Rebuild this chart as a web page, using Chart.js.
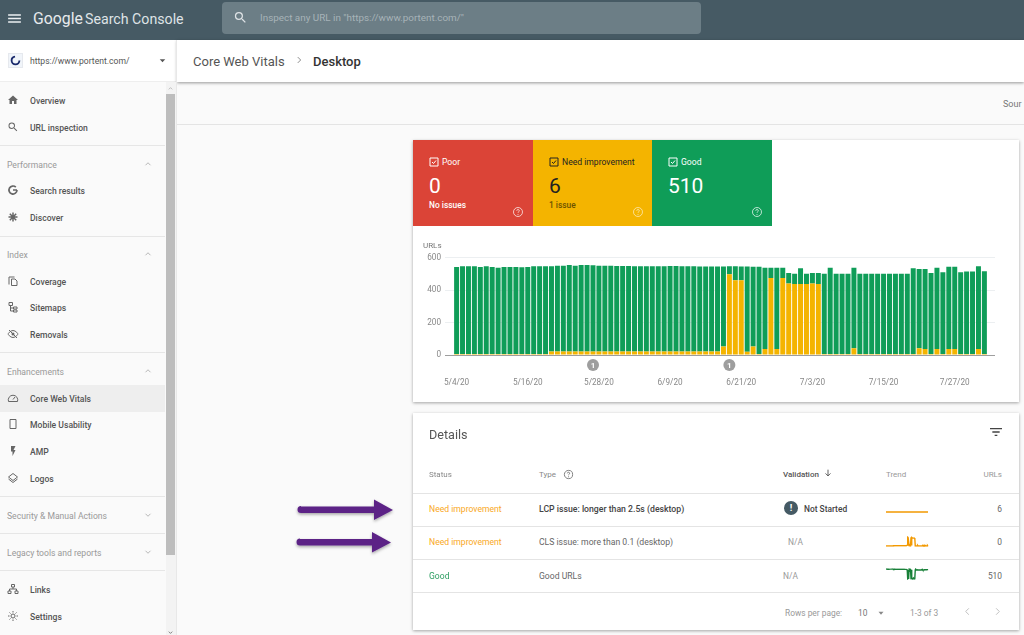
<!DOCTYPE html>
<html>
<head>
<meta charset="utf-8">
<title>Core Web Vitals</title>
<script src="https://cdn.jsdelivr.net/npm/chart.js@4"></script>
<style>
html, body { margin: 0; padding: 0; width: 1024px; height: 635px; overflow: hidden; background: #fafafa; font-family: Roboto, sans-serif; }
.box { position: absolute; }
.t { position: absolute; transform: translateY(-50%); white-space: nowrap; line-height: 1; }
.r { transform: translate(-100%, -50%); }
.card { background: #fff; box-shadow: 0 1px 3px rgba(0,0,0,.35); }
svg { position: absolute; }
canvas { position: absolute; }
</style>
</head>
<body>
<div id="page"></div>
<canvas id="barChart" width="606" height="165" style="left:413px;top:235px;width:606px;height:165px;z-index:5"></canvas>
<canvas id="trend1" width="44" height="14" style="left:885px;top:505px;width:44px;height:14px;z-index:5"></canvas>
<canvas id="trend2" width="44" height="11" style="left:885px;top:536px;width:44px;height:11px;z-index:5"></canvas>
<canvas id="trend3" width="44" height="12" style="left:885px;top:568px;width:44px;height:12px;z-index:5"></canvas>
<script>
// chart values (one entry per day, 5/4/20 to 8/1/20)
const needImprovement = [
    6,6,6,6,6,6,6,6,6,6,6,6,6,6,6,6,
    22,22,22,22,22,22,22,22,22,22,22,22,22,22,22,22,22,22,22,22,22,22,22,22,22,22,22,22,22,
    53,497,460,460,20,53,6,37,475,37,475,440,438,438,438,440,438,
    6,6,6,6,6,41,6,6,6,6,6,6,6,6,6,6,41,37,6,37,6,37,37,6,6,6,37,6
];
const good = [
    536,540,540,540,536,540,536,532,536,536,536,534,536,540,540,540,
    524,528,528,533,528,533,533,531,528,528,528,527,527,527,525,525,525,525,525,525,527,527,525,525,525,523,523,523,523,
    492,50,87,85,525,490,537,501,63,501,63,65,62,96,62,65,67,
    494,532,494,494,494,497,494,494,494,494,494,494,494,494,494,528,489,493,499,501,504,506,506,504,508,508,510,510
];
const lcpTrend = [6,6,6,6,6,6,6,6,6,6,6,6,6,6,6,6,6,6,6,6];
const tickIndex = [0, 12, 24, 36, 48, 60, 72, 84];
const tickLabels = ["5/4/20", "5/16/20", "5/28/20", "6/9/20", "6/21/20", "7/3/20", "7/15/20", "7/27/20"];
const yTicks = [0, 200, 400, 600];
const markerIndex = [23, 46];

const GREEN = "#0f9d58", AMBER = "#f4b400", RED = "#db4437";

const page = document.getElementById("page");
function box(x, y, w, h, css) {
    const d = document.createElement("div");
    d.className = "box";
    d.style.cssText = `left:${x}px;top:${y}px;width:${w}px;height:${h}px;${css || ""}`;
    page.appendChild(d);
    return d;
}
function text(x, y, str, size, color, weight, right) {
    const d = document.createElement("div");
    d.className = right ? "t r" : "t";
    d.textContent = str;
    d.style.cssText = `left:${x}px;top:${y + 0.7}px;font-size:${size}px;color:${color};font-weight:${weight || 400};z-index:6`;
    page.appendChild(d);
}
function icon(x, y, size, inner, color) {
    const s = size / 2;
    page.insertAdjacentHTML("beforeend",
        `<svg viewBox="0 0 24 24" width="${size}" height="${size}" style="left:${x - s}px;top:${y - s}px;z-index:6;color:${color}" fill="currentColor" stroke="none">${inner}</svg>`);
}
const line = d => `<path d="${d}" fill="none" stroke="currentColor" stroke-width="2"/>`;
const ICONS = {
    menu: '<path d="M3 18h18v-2H3v2zm0-5h18v-2H3v2zm0-7v2h18V6H3z"/>',
    search: '<path d="M15.5 14h-.79l-.28-.27A6.47 6.47 0 0 0 16 9.5 6.5 6.5 0 1 0 9.5 16c1.61 0 3.09-.59 4.23-1.57l.27.28v.79l5 4.99L20.49 19l-4.99-5zm-6 0C7 14 5 12 5 9.5S7 5 9.5 5 14 7 14 9.5 12 14 9.5 14z"/>',
    home: '<path d="M10 20v-6h4v6h5v-8h3L12 3 2 12h3v8z"/>',
    discover: line("M12 3v18M3 12h18M5.6 5.6l12.8 12.8M18.4 5.6L5.6 18.4").replace('stroke-width="2"', 'stroke-width="3"'),
    google: line("M20 12h-8M20 12a8 8 0 1 1-2.4-5.7").replace('stroke-width="2"', 'stroke-width="3.4"'),
    coverage: line("M4 19V4h11M9 8h7l4 4v9H9z"),
    sitemap: line("M4 3h7v6H4zM13 12h7v4h-7zM13 18h7v4h-7zM7 9v11h6M7 14h6"),
    removals: line("M2 12s4-7 10-7 10 7 10 7-4 7-10 7-10-7-10-7zM4 4l16 16") + '<circle cx="12" cy="12" r="3"/>',
    gauge: line("M3 19a9.5 9.5 0 1 1 18 0zM12 15l4-5"),
    phone: line("M6 3h12v18H6z"),
    bolt: '<path d="M8 2v11h3v9l6-12h-4l4-8z"/>',
    logos: line("M12 3l9 7-9 7-9-7zM3 14l9 7 9-7"),
    links: line("M9 3h6v5H9zM2 16h6v5H2zM16 16h6v5h-6zM12 8v4M5 16v-4h14v4"),
    gear: line("M12 8a4 4 0 1 0 0 8 4 4 0 0 0 0-8zM12 2v3M12 19v3M2 12h3M19 12h3M5 5l2 2M17 17l2 2M5 19l2-2M17 7l2-2"),
    up: line("M6 15l6-6 6 6"),
    down: line("M6 9l6 6 6-6"),
    caret: '<path d="M6 9h12l-6 7z"/>',
    check: line("M4 4h16v16H4zM8 12l3 3 5-6"),
    help: line("M12 3a9 9 0 1 0 0 18 9 9 0 0 0 0-18zM9.5 9.5a2.5 2.5 0 1 1 3.5 2.3c-.7.4-1 .9-1 1.7") + '<circle cx="12" cy="17" r="1.2"/>',
    filter: '<path d="M3 6h18v2H3zM6.5 11h11v2h-11zM10 16h4v2h-4z"/>',
    arrowDown: line("M12 4v15M6 13l6 6 6-6"),
    left: line("M15 5l-7 7 7 7"),
    right: line("M9 5l7 7-7 7")
};

// top bar
box(0, 0, 1024, 40, "background:#465a64");
icon(14, 18, 17, ICONS.menu, "#eceff1");
text(33, 18, "Google", 15.8, "#e8eaed");
text(85, 18, "Search Console", 14.2, "#dfe3e6");
box(222, 2, 479, 32, "background:#6c7e86;border-radius:4px");
icon(240, 17, 15, ICONS.search, "#dfe3e6");
text(260, 17.5, 'Inspect any URL in "https://www.portent.com/"', 9.9, "#a7b3b8");

// header strip
box(0, 40, 176, 42, "background:#fff;border-bottom:1px solid #eee;box-sizing:border-box");
box(177, 40, 847, 42, "background:#fff;box-shadow:0 1px 3px rgba(0,0,0,.4)");
box(176, 40, 1, 595, "background:#e8e8e8");
box(8, 53, 15, 15, "background:#f1f5fa;border:1px solid #e6e9ee;box-sizing:border-box");
page.insertAdjacentHTML("beforeend", '<svg viewBox="0 0 24 24" width="11" height="11" style="left:10px;top:55px;z-index:6"><circle cx="12" cy="12" r="8.5" fill="none" stroke="#1a2a6c" stroke-width="4" stroke-dasharray="38 15"/></svg>');
text(30, 60, "https://www.portent.com/", 8.6, "#555");
icon(162, 60, 11, ICONS.caret, "#555");
text(193, 60, "Core Web Vitals", 13, "#555");
icon(299, 60, 10, line("M9 5l7 7-7 7"), "#777");
text(313, 60, "Desktop", 13, "#333", 500);
box(177, 124, 847, 1, "background:#e4e4e4");
text(1003, 103, "Sour", 9, "#777");

// sidebar
const navItems = [
    ["Overview", 100, "home"], ["URL inspection", 127, "search"],
    ["Search results", 190, "google"], ["Discover", 217, "discover"],
    ["Coverage", 281, "coverage"], ["Sitemaps", 307, "sitemap"], ["Removals", 334, "removals"],
    ["Core Web Vitals", 398, "gauge"], ["Mobile Usability", 424, "phone"], ["AMP", 451, "bolt"], ["Logos", 478, "logos"],
    ["Links", 589, "links"], ["Settings", 616, "gear"]
];
const navSections = [
    ["Performance", 164, "up"], ["Index", 254, "up"], ["Enhancements", 371, "up"],
    ["Security & Manual Actions", 515, "down"], ["Legacy tools and reports", 552, "down"]
];
const navLines = [145, 236, 352, 496, 533, 570];
box(0, 385, 165, 27, "background:#eeeeee");
navLines.forEach(y => box(0, y, 165, 1, "background:#e6e6e6"));
navItems.forEach(([name, y, ic]) => {
    text(30, y, name, 8.6, "#555", 500);
    icon(13, y, 12, ICONS[ic], "#666");
});
navSections.forEach(([name, y, ic]) => {
    text(7, y, name, 8.6, "#999");
    icon(148, y, 10, ICONS[ic], "#aaa");
});
box(166, 82, 10, 553, "background:#f3f3f3");
box(166, 94, 9, 461, "background:#bdbdbd");
icon(170, 88, 7, ICONS.up, "#999");
icon(170, 632, 7, ICONS.down, "#333");

// status card
box(413, 140, 606, 262, "").className = "box card";
const tiles = [
    [413, 120, RED, "Poor", "0", "No issues", "#fff"],
    [533, 119, AMBER, "Need improvement", "6", "1 issue", "#222"],
    [652, 120, GREEN, "Good", "510", "", "#fff"]
];
tiles.forEach(([x, w, bg, name, count, note, fg]) => {
    box(x, 140, w, 86, `background:${bg}`);
    icon(x + 21, 162, 12, ICONS.check, fg);
    text(x + 29, 161, name, 8.6, fg, 400);
    text(x + 16, 185, count, 21, fg);
    if (note) text(x + 16, 204, note, 8.4, fg === "#fff" ? "#fff" : "#6b5200", 500);
    icon(x + 105, 212, 12, ICONS.help, fg === "#fff" ? "rgba(255,255,255,.7)" : "rgba(255,255,255,.55)");
});
text(423, 245.5, "URLs", 8, "#777");

// details card
box(413, 413, 606, 217, "").className = "box card";
text(429, 434, "Details", 12.6, "#555");
icon(996, 432, 16, ICONS.filter, "#444");
text(429, 474, "Status", 8, "#888");
text(539, 474, "Type", 8, "#888");
icon(568, 474, 11, ICONS.help, "#777");
text(783, 474, "Validation", 8, "#555", 500);
icon(828, 473, 10, ICONS.arrowDown, "#444");
text(886, 474, "Trend", 8, "#999");
text(1002, 474, "URLs", 8, "#999", 400, true);
[493, 526, 559, 592].forEach(y => box(413, y, 606, 1, "background:#e4e4e4"));
text(429, 508, "Need improvement", 8.6, "#f9a825");
text(429, 541, "Need improvement", 8.6, "#f9a825");
text(429, 575, "Good", 8.6, "#2e9e62");
text(539, 508, "LCP issue: longer than 2.5s (desktop)", 8.7, "#444", 500);
text(539, 541, "CLS issue: more than 0.1 (desktop)", 8.65, "#666");
text(539, 575, "Good URLs", 8.6, "#666");
box(784, 501, 14, 14, "background:#455a64;border-radius:50%;z-index:6");
text(789.8, 507.5, "!", 9.5, "#fff", 700);
text(804, 508, "Not Started", 8.4, "#444", 500);
text(788, 541, "N/A", 8.4, "#999");
text(783, 575, "N/A", 8.4, "#999");
text(1002, 508, "6", 8.4, "#666", 400, true);
text(1002, 541, "0", 8.4, "#666", 400, true);
text(1002, 575, "510", 8.4, "#666", 400, true);
text(785, 612, "Rows per page:", 8.4, "#999");
text(858, 612, "10", 8.4, "#777");
icon(881, 613, 10, ICONS.caret, "#888");
text(910, 612, "1-3 of 3", 8.4, "#999");
icon(967, 611, 11, ICONS.left, "#bbb");
icon(997, 611, 11, ICONS.right, "#bbb");

// purple arrows
page.insertAdjacentHTML("beforeend", `<svg width="120" height="60" style="left:290px;top:495px;z-index:6;overflow:visible">
<defs><filter id="sh" x="-10%" y="-40%" width="120%" height="180%"><feDropShadow dx="0" dy="1.5" stdDeviation="1.5" flood-color="#000" flood-opacity=".35"/></filter></defs>
<g fill="#5b2386" filter="url(#sh)">
<path d="M11 11.5h73v-7l19 10.500-19 10v-7H11a3.500 3.500 0 0 1 0-7z"/>
<path d="M10 44h72v-7l19 10.500-19 10v-7H10a3.500 3.500 0 0 1 0-7z"/>
</g></svg>`);

// grey annotation markers under the bars
const markers = {
    id: "markers",
    afterDraw(chart) {
        const c = chart.ctx, sx = chart.scales.x;
        markerIndex.forEach(i => {
            const x = sx.getPixelForValue(i);
            c.save();
            c.fillStyle = "#9e9e9e";
            c.beginPath();
            c.arc(x, 130, 6, 0, Math.PI * 2);
            c.fill();
            c.fillStyle = "#fff";
            c.font = "700 8px Roboto";
            c.textAlign = "center";
            c.textBaseline = "middle";
            c.fillText("1", x, 130.5);
            c.restore();
        });
    }
};

new Chart(document.getElementById("barChart"), {
    type: "bar",
    data: {
        datasets: [
            {
                label: "Need improvement",
                data: needImprovement.map((v, i) => ({ x: i, y: v })),
                backgroundColor: AMBER,
                barPercentage: 0.84,
                categoryPercentage: 1
            },
            {
                label: "Good",
                data: good.map((v, i) => ({ x: i, y: v })),
                backgroundColor: GREEN,
                barPercentage: 0.84,
                categoryPercentage: 1
            }
        ]
    },
    options: {
        responsive: false,
        animation: false,
        layout: { padding: { top: 22.6, right: 24 } },
        plugins: { legend: { display: false }, tooltip: { enabled: false } },
        scales: {
            x: {
                type: "linear",
                offset: false,
                stacked: true,
                min: -1.956,
                max: 90.79,
                grid: { display: false },
                border: { display: false },
                afterBuildTicks: s => { s.ticks = tickIndex.map(v => ({ value: v })); },
                afterFit: s => { s.height = 45; },
                ticks: {
                    autoSkip: false,
                    maxRotation: 0,
                    padding: 15,
                    color: "#888",
                    font: { family: "Roboto", size: 8.2 },
                    callback: v => tickLabels[tickIndex.indexOf(v)]
                }
            },
            y: {
                stacked: true,
                min: 0,
                max: 600,
                afterBuildTicks: s => { s.ticks = yTicks.map(v => ({ value: v })); },
                afterFit: s => { s.width = 32; },
                grid: {
                    drawTicks: false,
                    color: c => c.tick.value === 0 ? "#9e9e9e" : "#eceff1"
                },
                border: { display: false },
                ticks: { padding: 4, color: "#888", font: { family: "Roboto", size: 8.2 } }
            }
        }
    },
    plugins: [markers]
});

function trend(id, values, color) {
    new Chart(document.getElementById(id), {
        type: "line",
        data: {
            labels: values.map((v, i) => i),
            datasets: [{ data: values, borderColor: color, borderWidth: 1.4, pointRadius: 0, tension: 0 }]
        },
        options: {
            responsive: false,
            animation: false,
            layout: { padding: 1 },
            plugins: { legend: { display: false }, tooltip: { enabled: false } },
            scales: { x: { display: false }, y: { display: false, bounds: "data" } }
        }
    });
}
trend("trend1", lcpTrend, "#f29900");
trend("trend2", needImprovement, "#f29900");
trend("trend3", good, "#188038");
</script>
</body>
</html>
